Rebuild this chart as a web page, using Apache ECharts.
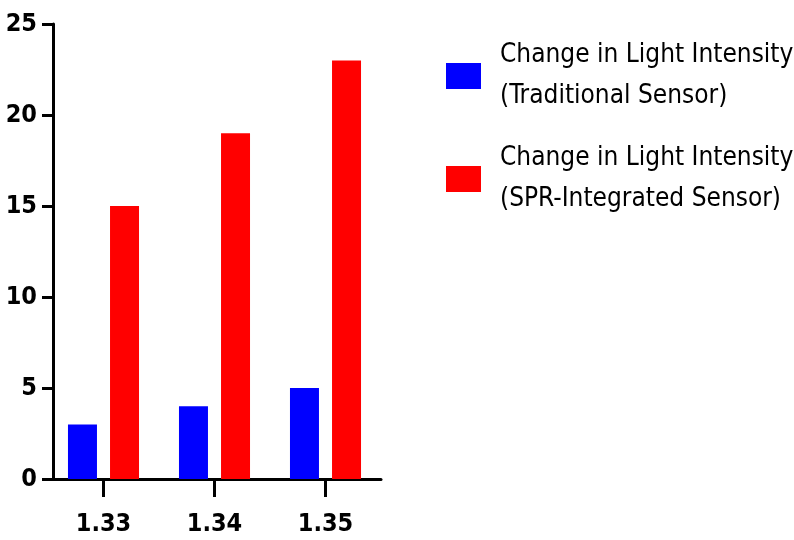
<!DOCTYPE html>
<html>
<head>
<meta charset="utf-8">
<script src="https://cdn.jsdelivr.net/npm/echarts@6/dist/echarts.min.js"></script>
<style>html,body{margin:0;padding:0;background:#fff}#c{width:794px;height:540px}</style>
</head>
<body>
<div id="c"></div>
<script>
const categories = ['1.33', '1.34', '1.35'];
const traditional = [3, 4, 5];
const sprIntegrated = [15, 19, 23];
const seriesNames = ['Change in Light Intensity (Traditional Sensor)', 'Change in Light Intensity (SPR-Integrated Sensor)'];
const yTicks = { min: 0, max: 25, interval: 5 };

const FONT = "'DejaVu Sans Condensed', 'Liberation Sans Narrow', 'Liberation Sans', Arial, sans-serif";
const chart = echarts.init(document.getElementById('c'), null, { renderer: 'canvas' });
chart.setOption({
  animation: false,
  backgroundColor: '#fff',
  grid: { left: 48, top: 24, width: 333, bottom: 61, containLabel: false },
  legend: {
    orient: 'vertical',
    left: 446,
    top: 29,
    padding: 0,
    itemWidth: 35,
    itemHeight: 26,
    itemGap: 9,
    icon: 'rect',
    textStyle: { fontFamily: FONT, fontSize: 26, lineHeight: 41, color: '#000', padding: [12, 0, 0, 14] },
    formatter: function (name) { return name.replace(' (', '\n('); },
    data: seriesNames
  },
  xAxis: {
    type: 'category',
    data: categories,
    axisLine: { show: true, lineStyle: { color: '#000', width: 3 } },
    axisTick: { show: true, interval: 0, alignWithLabel: true, length: 18, lineStyle: { color: '#000', width: 3 } },
    axisLabel: { fontFamily: FONT, fontSize: 25, fontWeight: 'bold', color: '#000', margin: 33 }
  },
  yAxis: {
    type: 'value',
    min: yTicks.min, max: yTicks.max, interval: yTicks.interval,
    offset: -5,
    splitLine: { show: false },
    axisLine: { show: true, lineStyle: { color: '#000', width: 3 } },
    axisTick: { show: true, length: 11, lineStyle: { color: '#000', width: 3 } },
    axisLabel: { fontFamily: FONT, fontSize: 25, fontWeight: 'bold', color: '#000', margin: 16 }
  },
  series: [
    { name: seriesNames[0], type: 'bar', data: traditional, barWidth: 29, barGap: '45%', itemStyle: { color: '#0000ff' } },
    { name: seriesNames[1], type: 'bar', data: sprIntegrated, barWidth: 29, barGap: '45%', itemStyle: { color: '#ff0000' } }
  ]
});
</script>
</body>
</html>
